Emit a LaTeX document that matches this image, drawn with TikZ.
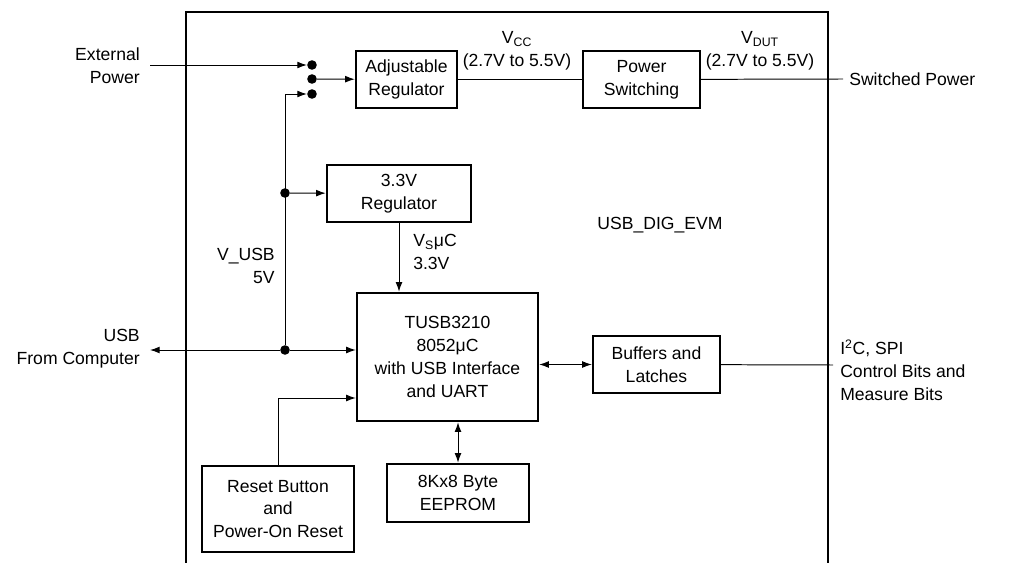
\documentclass[tikz,border=0pt]{standalone}
\usepackage{fontspec}
\setmainfont{Liberation Sans}
\usetikzlibrary{arrows.meta}
\begin{document}
\begin{tikzpicture}[x=0.025cm,y=-0.025cm,
  font=\fontsize{12.5}{16.3}\selectfont,
  blk/.style={draw,line width=1.8pt,align=center,inner sep=0pt},
  lbl/.style={inner sep=0pt},
  conn/.style={line width=0.7pt,-{Latex[length=2.4mm,width=1.7mm]}},
  bidir/.style={line width=0.7pt,{Latex[length=2.4mm,width=1.7mm]}-{Latex[length=2.4mm,width=1.7mm]}},
  wire/.style={line width=0.7pt},
  dot/.style={circle,fill,inner sep=0pt,minimum size=0.24cm}]
\useasboundingbox (0,0) rectangle (1029,563);
% board outline, open at the bottom
\draw[line width=2pt] (186,563) -- (186,12) -- (828,12) -- (828,563);
\node[lbl] (evm) at (660,225) {USB\_DIG\_EVM};
% blocks
\node[blk,minimum width=2.52cm,minimum height=1.42cm] (adjreg) at (406.5,79.5) {Adjustable\\Regulator};
\node[blk,minimum width=2.92cm,minimum height=1.42cm] (pwrsw) at (641.5,79.5) {Power\\Switching};
\node[blk,minimum width=3.6cm,minimum height=1.42cm] (reg33) at (399,193.5) {3.3V\\Regulator};
\node[blk,minimum width=4.52cm,minimum height=3.2cm] (tusb) at (447.5,357) {TUSB3210\\8052μC\\with USB Interface\\and UART};
\node[blk,minimum width=3.17cm,minimum height=1.42cm] (buffers) at (656.5,364.5) {Buffers and\\Latches};
\node[blk,minimum width=3.8cm,minimum height=2.15cm] (reset) at (278,509) {Reset Button\\and\\Power-On Reset};
\node[blk,minimum width=3.55cm,minimum height=1.45cm] (eeprom) at (458,493) {8Kx8 Byte\\EEPROM};
% labels
\node[lbl,anchor=east,align=right] (extpwr) at (140,66) {External\\Power};
\node[lbl,align=center] (vcc) at (517,51) {V\textsubscript{CC}\\(2.7V to 5.5V)};
\node[lbl,align=center] (vdut) at (760,51) {V\textsubscript{DUT}\\(2.7V to 5.5V)};
\node[lbl,anchor=west] (swpwr) at (849,79) {Switched Power};
\node[lbl,anchor=east,align=right] (vusb) at (275,266) {V\_USB\\5V};
\node[lbl,anchor=west,align=left] (vsuc) at (413,252) {V\textsubscript{S}μC\\3.3V};
\node[lbl,anchor=east,align=right] (usbpc) at (140,349) {USB\\From Computer};
\node[lbl,anchor=west,align=left] (i2c) at (840,370) {I\textsuperscript{2}C, SPI\\Control Bits and\\Measure Bits};
% selector dots and junctions
\node[dot] (dotext) at (312,65) {};
\node[dot] (dotsel) at (312,79) {};
\node[dot] (dotusb) at (312,94) {};
\node[dot] (jreg) at (285,193) {};
\node[dot] (jusb) at (285,350) {};
\coordinate (extin) at (150,65);
\coordinate (swend) at (843,79);
\coordinate (usbend) at (150,350);
\coordinate (i2cend) at (833,365);
\coordinate (rstlvl) at (0,398);
% connectors
\draw[conn] (extin) -- (dotext);
\draw[conn] (dotsel) -- (adjreg);
\draw[conn] (jusb) |- (dotusb);
\draw[conn] (jreg) -- (reg33);
\draw[wire] (adjreg) -- (pwrsw);
\draw[wire] (pwrsw) -- (swend);
\draw[conn] (reg33.south) -- (reg33.south |- tusb.north);
\draw[conn] (jusb) -- (usbend);
\draw[conn] (jusb) -- (jusb -| tusb.west);
\draw[bidir] (buffers.west -| tusb.east) -- (buffers.west);
\draw[wire] (buffers) -- (i2cend);
\draw[conn] (reset.north) |- (tusb.west |- rstlvl);
\draw[bidir] (eeprom.north |- tusb.south) -- (eeprom.north);
\end{tikzpicture}
\end{document}
